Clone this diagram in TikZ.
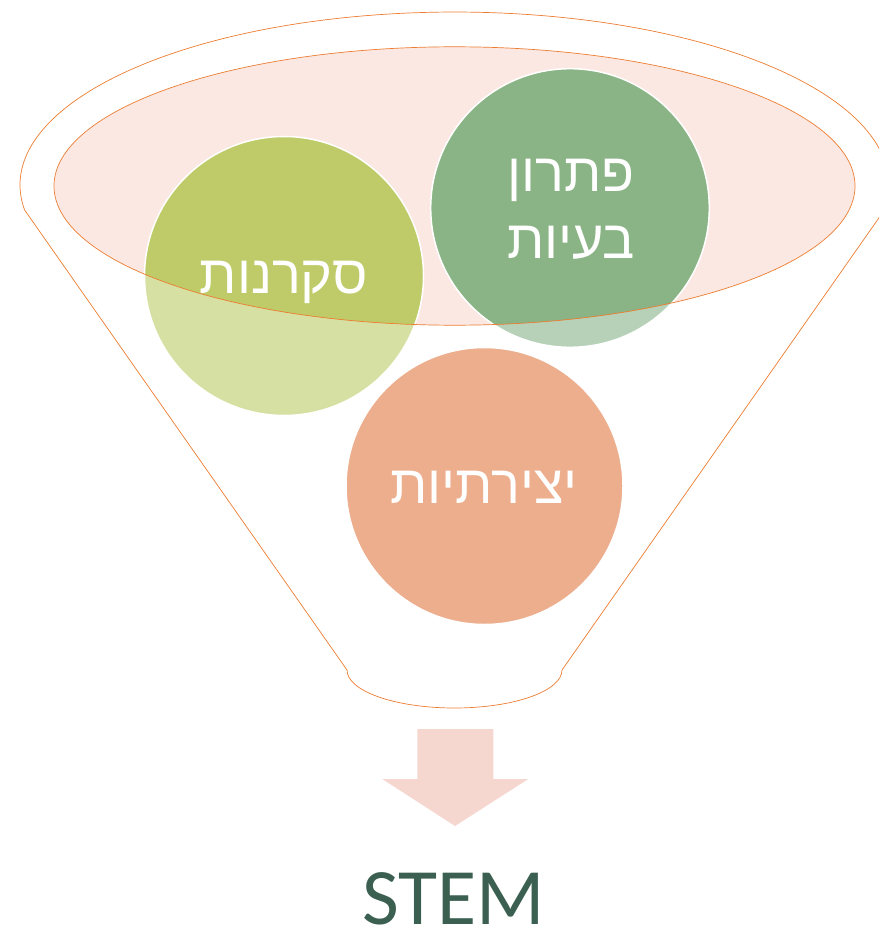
\documentclass[tikz,border=0pt]{standalone}
\usepackage{fontspec}
\setmainfont{Carlito}
\newfontfamily\hebfont[Script=Hebrew]{Liberation Sans}
\TeXXeTstate=1
\definecolor{funnelline}{HTML}{ED7D31}
\definecolor{pinkfill}{HTML}{FBE8E3}
\definecolor{olivefull}{HTML}{BFCB69}
\definecolor{olivelight}{HTML}{D7E0A3}
\definecolor{greenfull}{HTML}{8AB485}
\definecolor{greenlight}{HTML}{B7D1B8}
\definecolor{salmonfull}{HTML}{EDAE8E}
\definecolor{arrowfill}{HTML}{F6D7CF}
\definecolor{stemcol}{HTML}{3B5F50}
\tikzset{
  funnelstroke/.style={draw=funnelline, line width=0.7pt},
  bubble/.style={draw=white, line width=1.5pt},
  heblabel/.style={text=white, font=\hebfont\fontsize{54}{60}\selectfont, inner sep=0pt, anchor=base},
}
\begin{document}
\begin{tikzpicture}[x=1pt,y=1pt]
\useasboundingbox (0,0) rectangle (879,-928);
\clip (0,0) rectangle (879,-928);
% funnel outline
\draw[funnelstroke, fill=white] (24.6,-210) arc[start angle=188.3, end angle=-8.3, x radius=434.5pt, y radius=173pt]
  -- (562,-670) arc[start angle=0, end angle=-180, x radius=107.5pt, y radius=38pt] -- cycle;
% pink top ellipse fill
\fill[pinkfill] (454.5,-186) ellipse[x radius=400.5pt, y radius=139.2pt];
% light parts of circles
\fill[olivelight] (284,-276) circle[radius=139.5pt];
\fill[greenlight] (570,-208) circle[radius=139.3pt];
\begin{scope}
  \clip (454.5,-186) ellipse[x radius=400.5pt, y radius=139.2pt];
  \fill[olivefull] (284,-276) circle[radius=139.5pt];
  \fill[greenfull] (570,-208) circle[radius=139.3pt];
\end{scope}
\draw[bubble] (284,-276) circle[radius=139.5pt];
\draw[bubble] (570,-208) circle[radius=139.3pt];
\fill[salmonfull] (484.5,-486) circle[radius=138.5pt];
\draw[bubble] (484.5,-486) circle[radius=138.5pt];
% ellipse outline on top
\draw[funnelstroke] (454.5,-186) ellipse[x radius=400.5pt, y radius=139.2pt];
% labels
\node[heblabel] (curio) at (284,-293) {\beginR סקרנות\endR};
\node[heblabel] (solve1) at (571,-192) {\beginR פתרון\endR};
\node[heblabel] (solve2) at (571,-258) {\beginR בעיות\endR};
\node[heblabel] (create) at (484,-503) {\beginR יצירתיות\endR};
% arrow
\fill[arrowfill] (417.3,-729) -- (493.3,-729) -- (493.3,-779) -- (528.3,-779) -- (455,-826) -- (382.3,-779) -- (417.3,-779) -- cycle;
% STEM
\node[text=stemcol, font=\fontsize{80}{90}\selectfont, inner sep=0pt, anchor=base] (stem) at (454,-924) {STEM};
\end{tikzpicture}
\end{document}
